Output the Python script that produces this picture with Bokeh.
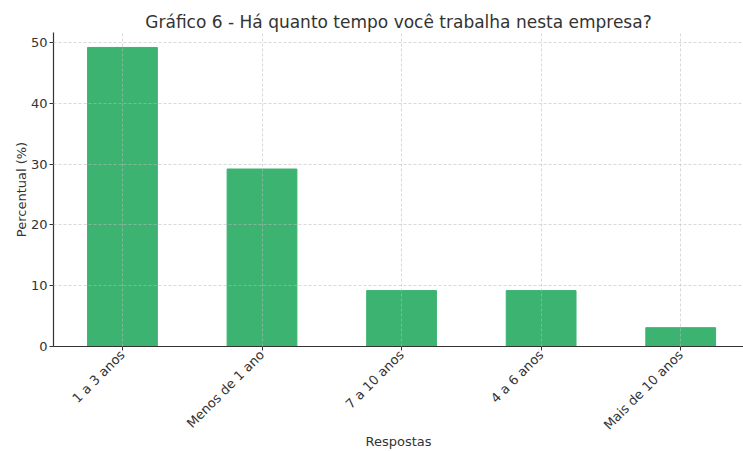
import math
from bokeh.plotting import figure
from bokeh.models import Range1d, FixedTicker
from bokeh.embed import file_html
from bokeh.resources import INLINE

categories = ["1 a 3 anos", "Menos de 1 ano", "7 a 10 anos", "4 a 6 anos", "Mais de 10 anos"]
values = [49.2, 29.2, 9.2, 9.2, 3.1]
y_ticks = [0, 10, 20, 30, 40, 50]

xs = list(range(len(categories)))

p = figure(width=743, height=451, output_backend="svg", toolbar_location=None,
           x_range=Range1d(-0.494, 4.45), y_range=Range1d(0, 51.66),
           min_border_left=53, min_border_right=0, min_border_top=0, min_border_bottom=0)

p.title.text = "Gráfico 6 - Há quanto tempo você trabalha nesta empresa?"
p.title.align = "center"
p.title.text_font = "DejaVu Sans"
p.title.text_font_size = "17px"
p.title.text_font_style = "normal"
p.title.text_color = "#333333"
p.title.offset = 0
p.title.standoff = 2
p.title.padding = dict(left=0, right=0, top=8, bottom=0)

p.vbar(x=xs, top=values, width=0.5, color="#3cb371", line_color="#3cb371")

p.xaxis.ticker = FixedTicker(ticks=xs)
p.xaxis.major_label_overrides = {i: c for i, c in enumerate(categories)}
p.xaxis.major_label_orientation = math.pi / 4
p.yaxis.ticker = FixedTicker(ticks=y_ticks)

p.xaxis.axis_label = "Respostas"
p.yaxis.axis_label = "Percentual (%)"

for ax in (p.xaxis, p.yaxis):
    ax.axis_label_text_font = "DejaVu Sans"
    ax.axis_label_text_font_size = "13px"
    ax.axis_label_text_font_style = "normal"
    ax.axis_label_text_color = "#333333"
    ax.major_label_text_font = "DejaVu Sans"
    ax.major_label_text_font_size = "13px"
    ax.major_label_text_color = "#333333"
    ax.axis_line_color = "#333333"
    ax.axis_line_width = 1.2
    ax.major_tick_line_color = "#333333"
    ax.major_tick_out = 4
    ax.major_tick_in = 0
    ax.minor_tick_line_color = None

p.xaxis.axis_label_standoff = -7
p.xaxis.major_label_standoff = 2
p.yaxis.major_label_standoff = 2
p.yaxis.axis_label_standoff = -1

for g in (p.xgrid, p.ygrid):
    g.grid_line_color = "#bbbbbb"
    g.grid_line_dash = "3 2"
    g.grid_line_alpha = 0.7
    g.grid_line_width = 0.8
    g.level = "overlay"

p.outline_line_color = None
p.background_fill_color = "white"
p.border_fill_color = "white"

open("out.html", "w").write(file_html(p, INLINE))
